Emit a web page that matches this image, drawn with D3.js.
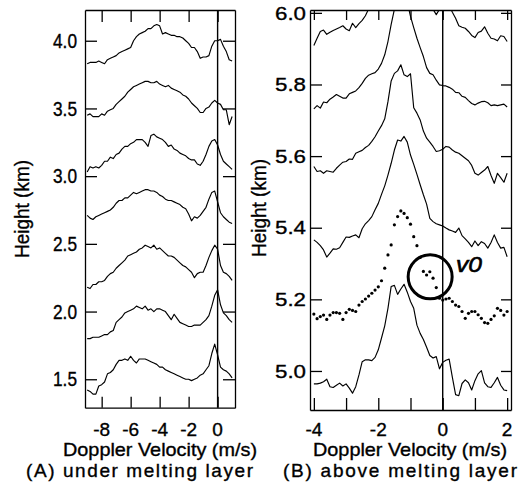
<!DOCTYPE html>
<html>
<head>
<meta charset="utf-8">
<script src="https://d3js.org/d3.v7.min.js"></script>
<style>
body { margin: 0; background: #fff; }
text { font-family: "Liberation Sans", Arial, Helvetica, sans-serif; fill: #000; stroke: #000; stroke-width: 0.35px; }
.frame .domain, .frame line { stroke: #000; stroke-width: 1.3; }
</style>
</head>
<body>
<svg id="chart" width="525" height="500"></svg>
<script>
// ---- data: panel A (under melting layer), 0.2 m/s bins ----
var velA = [-9.0,-8.8,-8.6,-8.4,-8.2,-8.0,-7.8,-7.6,-7.4,-7.2,-7.0,-6.8,-6.6,-6.4,-6.2,-6.0,-5.8,-5.6,-5.4,-5.2,
  -5.0,-4.8,-4.6,-4.4,-4.2,-4.0,-3.8,-3.6,-3.4,-3.2,-3.0,-2.8,-2.6,-2.4,-2.2,-2.0,-1.8,-1.6,-1.4,-1.2,
  -1.0,-0.8,-0.6,-0.4,-0.2,0.0,0.2,0.4,0.6,0.8,1.0];
var specA1 = [3.83,3.84,3.84,3.84,3.85,3.84,3.83,3.86,3.87,3.88,3.89,3.91,3.92,3.93,3.94,3.95,4.00,4.03,4.05,4.06,
  4.07,4.09,4.09,4.11,4.12,4.11,4.05,4.06,4.05,4.04,4.04,4.03,4.03,4.02,4.00,3.98,3.95,3.95,3.92,3.87,
  3.88,3.88,3.89,3.96,4.00,4.00,4.01,3.96,3.92,3.86,3.85];
var specA2 = [3.45,3.46,3.44,3.44,3.44,3.46,3.45,3.48,3.49,3.50,3.53,3.55,3.57,3.59,3.62,3.64,3.66,3.67,3.68,3.69,
  3.70,3.70,3.69,3.69,3.70,3.68,3.67,3.66,3.67,3.65,3.64,3.63,3.62,3.60,3.59,3.57,3.54,3.52,3.50,3.47,
  3.47,3.50,3.51,3.54,3.56,3.54,3.53,3.49,3.49,3.38,3.44];
var specA3 = [3.03,3.07,3.06,3.07,3.06,3.08,3.11,3.11,3.14,3.13,3.16,3.17,3.20,3.22,3.22,3.24,3.25,3.27,3.27,3.27,
  3.25,3.22,3.30,3.31,3.29,3.28,3.27,3.25,3.22,3.23,3.20,3.19,3.17,3.16,3.15,3.13,3.12,3.12,3.09,3.08,
  3.11,3.16,3.22,3.26,3.27,3.23,3.16,3.11,3.09,3.07,3.05];
var specA4 = [2.71,2.69,2.68,2.70,2.71,2.72,2.73,2.74,2.75,2.77,2.80,2.82,2.82,2.84,2.84,2.86,2.88,2.87,2.88,2.89,
  2.90,2.90,2.89,2.89,2.88,2.86,2.85,2.83,2.82,2.82,2.81,2.80,2.79,2.77,2.76,2.72,2.67,2.70,2.69,2.71,
  2.74,2.77,2.83,2.88,2.89,2.81,2.73,2.70,2.68,2.66,2.65];
var specA5 = [2.18,2.17,2.20,2.20,2.22,2.22,2.23,2.26,2.28,2.29,2.32,2.34,2.36,2.38,2.41,2.42,2.43,2.44,2.46,2.47,
  2.49,2.48,2.47,2.49,2.46,2.47,2.45,2.43,2.41,2.41,2.40,2.38,2.36,2.34,2.33,2.31,2.29,2.25,2.28,2.29,
  2.29,2.34,2.40,2.45,2.49,2.46,2.34,2.29,2.28,2.26,2.23];
var specA6 = [1.80,1.80,1.81,1.81,1.81,1.82,1.83,1.83,1.85,1.86,1.92,1.94,1.96,1.99,2.00,2.01,2.02,2.04,2.03,2.02,
  2.04,2.01,2.02,2.00,2.02,2.02,2.01,2.00,1.97,1.94,1.98,1.95,1.92,1.91,1.90,1.89,1.89,1.90,1.90,1.90,
  1.92,1.94,1.97,2.04,2.12,2.16,2.05,1.99,1.97,1.94,1.92];
var specA7 = [1.42,1.41,1.39,1.39,1.45,1.46,1.48,1.54,1.55,1.57,1.61,1.64,1.64,1.65,1.64,1.67,1.64,1.62,1.65,1.65,
  1.65,1.64,1.63,1.62,1.61,1.59,1.59,1.57,1.56,1.55,1.54,1.53,1.52,1.51,1.50,1.50,1.49,1.50,1.51,1.53,
  1.54,1.57,1.60,1.69,1.76,1.68,1.59,1.57,1.56,1.54,1.51];
var ticksAx = [-8, -6, -4, -2, 0];
var ticksAy = [1.5, 2.0, 2.5, 3.0, 3.5, 4.0];

// ---- data: panel B (above melting layer), 0.1 m/s bins ----
var velB = [-4.0,-3.9,-3.8,-3.7,-3.6,-3.5,-3.4,-3.3,-3.2,-3.1,-3.0,-2.9,-2.8,-2.7,-2.6,-2.5,-2.4,-2.3,-2.2,-2.1,
  -2.0,-1.9,-1.8,-1.7,-1.6,-1.5,-1.4,-1.3,-1.2,-1.1,-1.0,-0.9,-0.8,-0.7,-0.6,-0.5,-0.4,-0.3,-0.2,-0.1,
  0.0,0.1,0.2,0.3,0.4,0.5,0.6,0.7,0.8,0.9,1.0,1.1,1.2,1.3,1.4,1.5,1.6,1.7,1.8,1.9,2.0];
var specB1 = [5.909,5.929,5.948,5.952,5.940,5.946,5.951,5.955,5.959,5.964,5.955,5.950,5.971,5.959,5.970,5.979,5.992,6.011,6.03,6.05,
  6.07,6.09,6.11,6.13,6.15,6.17,6.18,6.19,6.18,6.17,6.16,6.14,6.13,6.11,6.10,6.08,6.07,6.01,5.995,6.01,
  6.04,6.03,6.02,6.002,5.985,5.964,5.960,5.957,5.948,5.937,5.931,5.945,5.949,5.961,5.943,5.929,5.927,5.922,5.936,5.934,5.920];
var specB2 = [5.732,5.741,5.734,5.751,5.749,5.759,5.765,5.772,5.767,5.762,5.762,5.774,5.778,5.782,5.791,5.803,5.817,5.826,5.830,5.833,
  5.843,5.859,5.883,5.920,5.968,6.01,6.05,6.07,6.06,6.03,5.990,5.959,5.929,5.903,5.878,5.847,5.831,5.827,5.812,5.799,
  5.797,5.796,5.792,5.787,5.778,5.777,5.767,5.764,5.755,5.747,5.743,5.748,5.752,5.753,5.749,5.741,5.743,5.741,5.743,5.745,5.737];
var specB3 = [5.571,5.557,5.559,5.552,5.559,5.557,5.555,5.566,5.575,5.583,5.585,5.592,5.591,5.608,5.612,5.616,5.624,5.630,5.641,5.654,
  5.670,5.685,5.704,5.752,5.810,5.831,5.838,5.855,5.827,5.822,5.830,5.735,5.720,5.701,5.670,5.650,5.639,5.627,5.613,5.615,
  5.619,5.627,5.625,5.617,5.611,5.608,5.601,5.594,5.587,5.574,5.552,5.547,5.554,5.561,5.571,5.546,5.524,5.552,5.540,5.527,5.552];
var specB4 = [5.366,5.359,5.350,5.338,5.318,5.329,5.341,5.340,5.344,5.359,5.374,5.373,5.377,5.380,5.372,5.397,5.411,5.420,5.431,5.450,
  5.468,5.493,5.517,5.547,5.580,5.617,5.645,5.642,5.655,5.639,5.603,5.577,5.549,5.520,5.492,5.466,5.426,5.417,5.411,5.408,
  5.405,5.399,5.394,5.391,5.387,5.399,5.378,5.369,5.359,5.347,5.363,5.350,5.361,5.356,5.343,5.359,5.380,5.359,5.343,5.345,5.319];
var specB5 = [5.159,5.146,5.152,5.156,5.144,5.156,5.163,5.163,5.161,5.144,5.163,5.172,5.169,5.166,5.184,5.194,5.201,5.209,5.217,5.226,
  5.235,5.252,5.287,5.324,5.352,5.408,5.431,5.447,5.440,5.428,5.410,5.375,5.350,5.317,5.278,5.268,5.277,5.259,5.233,5.203,
  5.198,5.201,5.203,5.194,5.184,5.180,5.166,5.147,5.161,5.166,5.166,5.157,5.147,5.135,5.133,5.144,5.154,5.175,5.169,5.156,5.166];
var specB6 = [4.964,4.964,4.966,4.970,4.977,4.956,4.954,4.960,4.966,4.958,4.964,4.952,4.938,4.956,4.989,5.026,5.031,5.031,5.029,5.038,
  5.059,5.092,5.126,5.175,5.236,5.239,5.214,5.229,5.242,5.220,5.194,5.175,5.128,5.105,5.088,5.066,5.043,5.036,5.040,5.006,
  5.024,5.030,5.033,4.982,4.934,4.931,4.965,4.975,4.967,4.947,4.973,4.992,5.001,4.967,4.956,4.954,4.967,4.982,4.960,4.947,4.945];
var ticksBx = [-4, -3, -2, -1, 0, 1, 2];
var ticksBy = [5.0, 5.2, 5.4, 5.6, 5.8, 6.0];
var tickLabelsBx = [-4, -2, 0, 2];
var markV0 = {v: -0.39, h: 5.263};

var svg = d3.select("#chart");

//scales
var xA = d3.scaleLinear().domain([-9.15, 1.2]).range([85, 235]);
var yA = d3.scaleLinear().domain([1.29, 4.227]).range([407.7, 10]);
var xB = d3.scaleLinear().domain([-4.12, 2.12]).range([310, 511]);
var yB = d3.scaleLinear().domain([4.891, 6.008]).range([410, 10]);

function frame(x, y, tx, ty, tin) {
  var x0 = x.range()[0], x1 = x.range()[1], y0 = y.range()[1], y1 = y.range()[0];
  var g = svg.append("g").attr("class", "frame");
  g.append("g").attr("transform", "translate(" + x0 + ",0)")
    .call(d3.axisLeft(y).tickValues(ty).tickSize(-tin[0]).tickSizeOuter(0).tickFormat(""));
  g.append("g").attr("transform", "translate(" + x1 + ",0)")
    .call(d3.axisRight(y).tickValues(ty).tickSize(-tin[1]).tickSizeOuter(0).tickFormat(""));
  g.append("g").attr("transform", "translate(0," + y0 + ")")
    .call(d3.axisTop(x).tickValues(tx).tickSize(-tin[2]).tickSizeOuter(0).tickFormat(""));
  g.append("g").attr("transform", "translate(0," + y1 + ")")
    .call(d3.axisBottom(x).tickValues(tx).tickSize(-tin[3]).tickSizeOuter(0).tickFormat(""));
  // zero velocity line
  g.append("line").attr("x1", x(0)).attr("x2", x(0)).attr("y1", y0).attr("y2", y1)
    .style("stroke", "#000").style("stroke-width", 1.4);
}

function spectrum(x, y, vel, vals, clip) {
  var line = d3.line().x(function(d, i) { return x(vel[i]); }).y(function(d) { return y(d); });
  svg.append("path").datum(vals)
    .attr("d", line)
    .attr("clip-path", clip ? "url(#" + clip + ")" : null)
    .style("fill", "none").style("stroke", "#000").style("stroke-width", 1.15)
    .style("stroke-linejoin", "round");
}

//clip for panel B
svg.append("defs").append("clipPath").attr("id", "clipB")
  .append("rect").attr("x", 310).attr("y", 10).attr("width", 201).attr("height", 400);

//panel A
[specA1, specA2, specA3, specA4, specA5, specA6, specA7].forEach(function(s) { spectrum(xA, yA, velA, s); });
frame(xA, yA, ticksAx, ticksAy, [12, 12, 12, 11]);

ticksAy.forEach(function(t) {
  svg.append("text").attr("x", 77).attr("y", yA(t) + 7.2)
    .attr("text-anchor", "end").style("font-size", "20px")
    .attr("textLength", 24).attr("lengthAdjust", "spacingAndGlyphs")
    .text(t.toFixed(1));
});
ticksAx.forEach(function(t) {
  svg.append("text").attr("x", xA(t)).attr("y", 435.5)
    .attr("text-anchor", "middle").style("font-size", "19px")
    .text(t);
});
svg.append("text").attr("x", 63).attr("y", 455.8).style("font-size", "18.5px")
  .attr("textLength", 194).attr("lengthAdjust", "spacingAndGlyphs")
  .text("Doppler Velocity (m/s)");
svg.append("text").attr("transform", "translate(29,258) rotate(-90)").style("font-size", "20px")
  .attr("textLength", 98).attr("lengthAdjust", "spacingAndGlyphs")
  .text("Height (km)");
svg.append("text").attr("x", 26).attr("y", 477.2).style("font-size", "19px")
  .attr("textLength", 227).attr("lengthAdjust", "spacing")
  .text("(A) under melting layer");

//panel B
[specB1, specB2, specB3, specB4, specB6].forEach(function(s) { spectrum(xB, yB, velB, s, "clipB"); });
svg.append("g").selectAll("circle").data(specB5).enter().append("circle")
  .attr("cx", function(d, i) { return xB(velB[i]); })
  .attr("cy", function(d) { return yB(d); })
  .attr("r", 1.6).style("fill", "#000");
frame(xB, yB, ticksBx, ticksBy, [12, 10, 10, 12]);

ticksBy.forEach(function(t) {
  svg.append("text").attr("x", 306).attr("y", yB(t) + 6.7)
    .attr("text-anchor", "end").style("font-size", "19px")
    .attr("textLength", 31).attr("lengthAdjust", "spacingAndGlyphs")
    .text(t.toFixed(1));
});
tickLabelsBx.forEach(function(t) {
  svg.append("text").attr("x", xB(t)).attr("y", 435.5)
    .attr("text-anchor", "middle").style("font-size", "19px")
    .text(t);
});
svg.append("text").attr("x", 313).attr("y", 455.8).style("font-size", "18.5px")
  .attr("textLength", 194).attr("lengthAdjust", "spacingAndGlyphs")
  .text("Doppler Velocity (m/s)");
svg.append("text").attr("transform", "translate(266,257) rotate(-90)").style("font-size", "20px")
  .attr("textLength", 98).attr("lengthAdjust", "spacingAndGlyphs")
  .text("Height (km)");
svg.append("text").attr("x", 283).attr("y", 477.2).style("font-size", "19px")
  .attr("textLength", 234).attr("lengthAdjust", "spacing")
  .text("(B)  above melting layer");

//v0 annotation
svg.append("circle").attr("cx", xB(markV0.v)).attr("cy", yB(markV0.h)).attr("r", 22)
  .style("fill", "none").style("stroke", "#000").style("stroke-width", 3);
svg.append("text").attr("x", 456).attr("y", 272).style("font-size", "22px")
  .style("font-style", "italic").style("stroke-width", "0.6px")
  .attr("textLength", 26).attr("lengthAdjust", "spacingAndGlyphs")
  .text("v0");
</script>
</body>
</html>
